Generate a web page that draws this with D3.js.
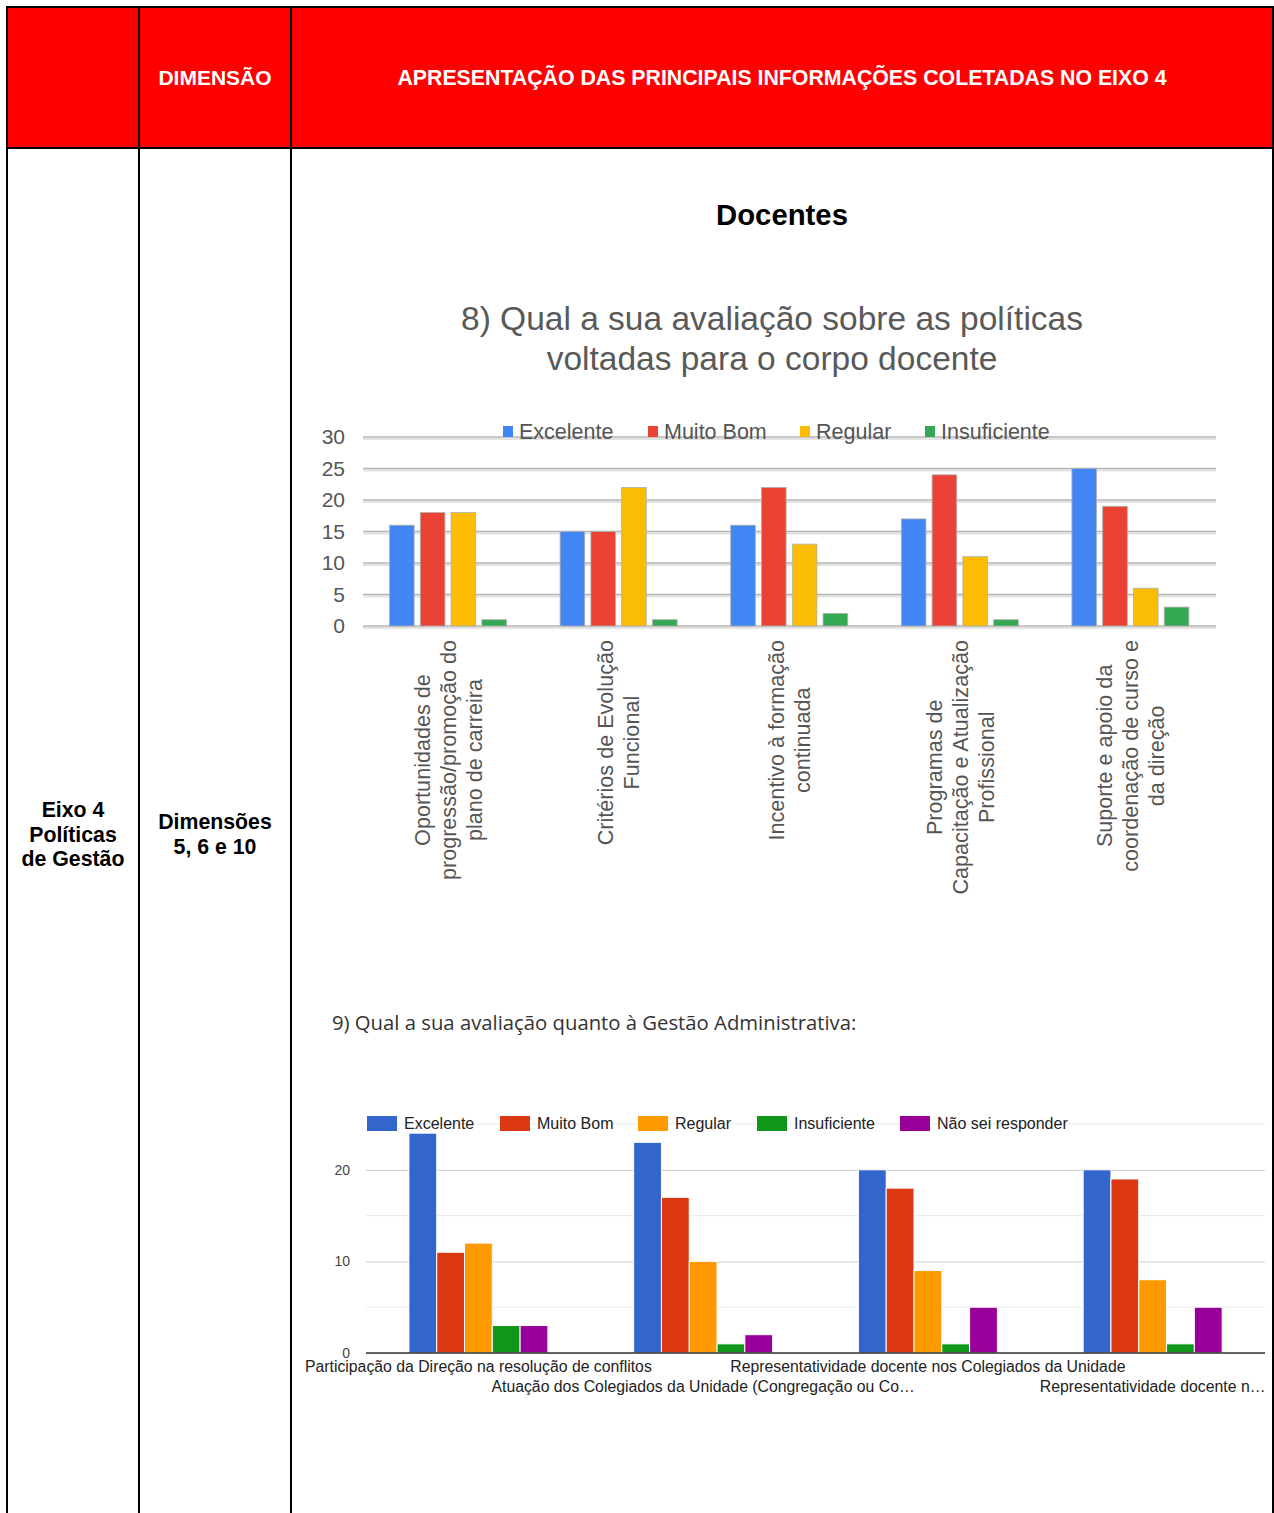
<!DOCTYPE html>
<html>
<head>
<meta charset="utf-8">
<script src="https://cdn.jsdelivr.net/npm/d3@7"></script>
<style>
  body { margin: 0; background: #fff; }
  svg { display: block; font-family: Arial, "Liberation Sans", sans-serif; }
</style>
</head>
<body>
<script>
// chart 8 - docentes, politicas
var cats1 = [
    ["Oportunidades de", "progressão/promoção do", "plano de carreira"],
    ["Critérios de Evolução", "Funcional"],
    ["Incentivo à formação", "continuada"],
    ["Programas de", "Capacitação e Atualização", "Profissional"],
    ["Suporte e apoio da", "coordenação de curso e", "da direção"]
];
var series1 = ["Excelente", "Muito Bom", "Regular", "Insuficiente"];
var excelente1 = [16, 15, 16, 17, 25];
var muitoBom1 = [18, 15, 22, 24, 19];
var regular1 = [18, 22, 13, 11, 6];
var insuficiente1 = [1, 1, 2, 1, 3];
var ticks1 = [0, 5, 10, 15, 20, 25, 30];

// chart 9 - gestao administrativa
var cats2 = [
    "Participação da Direção na resolução de conflitos",
    "Atuação dos Colegiados da Unidade (Congregação ou Co…",
    "Representatividade docente nos Colegiados da Unidade",
    "Representatividade docente n…"
];
var series2 = ["Excelente", "Muito Bom", "Regular", "Insuficiente", "Não sei responder"];
var excelente2 = [24, 23, 20, 20];
var muitoBom2 = [11, 17, 18, 19];
var regular2 = [12, 10, 9, 8];
var insuficiente2 = [3, 1, 1, 1];
var naoSei2 = [3, 2, 5, 5];
var ticks2 = [0, 10, 20];

var W = 1274, H = 1513;
var svg = d3.select("body").append("svg")
    .attr("width", W).attr("height", H);

// ---- table frame ----
var colX = [7, 139, 291, 1273];
svg.append("rect").attr("x", 7).attr("y", 7)
    .attr("width", 1266).attr("height", 141).attr("fill", "#ff0000");

var border = svg.append("g").attr("stroke", "#000").attr("stroke-width", 2);
border.append("line").attr("x1", 6).attr("x2", 1274).attr("y1", 7).attr("y2", 7);
border.append("line").attr("x1", 6).attr("x2", 1274).attr("y1", 148).attr("y2", 148);
colX.forEach(function(x) {
    border.append("line").attr("x1", x).attr("x2", x).attr("y1", 6).attr("y2", H);
});

svg.append("text").attr("x", 215).attr("y", 85)
    .attr("text-anchor", "middle").attr("fill", "#fff")
    .attr("font-weight", "bold").attr("font-size", 21)
    .text("DIMENSÃO");
svg.append("text").attr("x", 782).attr("y", 85)
    .attr("text-anchor", "middle").attr("fill", "#fff")
    .attr("font-weight", "bold").attr("font-size", 21.3)
    .text("APRESENTAÇÃO DAS PRINCIPAIS INFORMAÇÕES COLETADAS NO EIXO 4");

function multiline(lines, x, y0, dy, size) {
    var t = svg.append("text").attr("text-anchor", "middle")
        .attr("font-weight", "bold").attr("font-size", size).attr("fill", "#000");
    lines.forEach(function(l, i) {
        t.append("tspan").attr("x", x).attr("y", y0 + i * dy).text(l);
    });
}
multiline(["Eixo 4", "Políticas", "de Gestão"], 73, 817, 24.5, 21.3);
multiline(["Dimensões", "5, 6 e 10"], 215, 829, 25, 21.3);

svg.append("text").attr("x", 782).attr("y", 225)
    .attr("text-anchor", "middle").attr("font-weight", "bold")
    .attr("font-size", 29.3).attr("fill", "#000").text("Docentes");

// ---- chart 1 ----
var c1 = svg.append("g");
var colors1 = ["#4285F4", "#EA4335", "#FBBC04", "#34A853"];
var data1 = [excelente1, muitoBom1, regular1, insuficiente1];

c1.append("text").attr("text-anchor", "middle").attr("fill", "#595959")
    .attr("font-size", 33.5)
    .selectAll("tspan")
    .data(["8) Qual a sua avaliação sobre as políticas", "voltadas para o corpo docente"])
    .enter().append("tspan")
    .attr("x", 772).attr("y", function(d, i) { return 330 + i * 40; })
    .text(function(d) { return d; });

var x1 = d3.scaleBand().domain(d3.range(cats1.length)).range([363, 1216]);
var xi1 = d3.scaleBand().domain(d3.range(series1.length))
    .range([26.5, 143.5]).paddingInner(0.2);
var y1 = d3.scaleLinear().domain([0, 30]).range([626, 437]);

// gridlines with a soft shadow
ticks1.forEach(function(t) {
    c1.append("line").attr("x1", 363).attr("x2", 1216)
        .attr("y1", y1(t) + 2).attr("y2", y1(t) + 2)
        .attr("stroke", "#e3e3e3").attr("stroke-width", 2);
    c1.append("line").attr("x1", 363).attr("x2", 1216)
        .attr("y1", y1(t)).attr("y2", y1(t))
        .attr("stroke", "#b5b5b5").attr("stroke-width", 1.6);
});

var yAxis1 = c1.append("g").attr("transform", "translate(363,0)")
    .call(d3.axisLeft(y1).tickValues(ticks1).tickSize(0).tickPadding(18));
yAxis1.select(".domain").remove();
yAxis1.selectAll("text").attr("font-size", 21).attr("fill", "#555")
    .attr("font-family", "Arial, 'Liberation Sans', sans-serif");

data1.forEach(function(vals, s) {
    c1.selectAll(".b1s" + s).data(vals).enter().append("rect")
        .attr("x", function(d, i) { return x1(i) + xi1(s); })
        .attr("y", function(d) { return y1(d); })
        .attr("width", xi1.bandwidth())
        .attr("height", function(d) { return y1(0) - y1(d); })
        .attr("fill", colors1[s])
        .attr("stroke", "#b0b0b0").attr("stroke-width", 0.8);
});

// rotated category labels
cats1.forEach(function(lines, i) {
    var cx = x1(i) + x1.bandwidth() / 2;
    var g = c1.append("g");
    var t = g.append("text").attr("text-anchor", "middle")
        .attr("font-size", 21.6).attr("fill", "#555");
    var n = lines.length;
    lines.forEach(function(l, k) {
        t.append("tspan").attr("x", 0).attr("y", (k - (n - 1) / 2) * 26 + 7.5).text(l);
    });
    var maxW = 0;
    t.selectAll("tspan").each(function() {
        maxW = Math.max(maxW, this.getComputedTextLength());
    });
    g.attr("transform", "translate(" + cx + "," + (640 + maxW / 2) + ") rotate(-90)");
});

// legend 1
var leg1X = [503, 648, 800, 925];
series1.forEach(function(s, i) {
    c1.append("rect").attr("x", leg1X[i]).attr("y", 426)
        .attr("width", 10).attr("height", 11).attr("fill", colors1[i]);
    c1.append("text").attr("x", leg1X[i] + 16).attr("y", 439)
        .attr("font-size", 21.5).attr("fill", "#555").text(s);
});

// ---- chart 2 ----
var c2 = svg.append("g");
var colors2 = ["#3366CC", "#DC3912", "#FF9900", "#109618", "#990099"];
var data2 = [excelente2, muitoBom2, regular2, insuficiente2, naoSei2];

c2.append("text").attr("x", 332).attr("y", 1030)
    .attr("font-size", 20.3).attr("fill", "#333")
    .attr("font-family", "'Open Sans', Roboto, Arial, sans-serif")
    .text("9) Qual a sua avaliação quanto à Gestão Administrativa:");

var x2 = d3.scaleBand().domain(d3.range(cats2.length)).range([366, 1265]);
var xi2 = d3.scaleBand().domain(d3.range(series2.length))
    .range([42.9, 181.9]);
var y2 = d3.scaleLinear().domain([0, 25]).range([1353, 1124]);

[5, 15, 25].forEach(function(t) {
    c2.append("line").attr("x1", 366).attr("x2", 1265)
        .attr("y1", y2(t)).attr("y2", y2(t))
        .attr("stroke", "#ebebeb").attr("stroke-width", 1);
});
var yAxis2 = c2.append("g").attr("transform", "translate(366,0)")
    .call(d3.axisLeft(y2).tickValues(ticks2).tickSize(-899).tickPadding(16));
yAxis2.select(".domain").remove();
yAxis2.selectAll("line").attr("stroke", "#cccccc");
yAxis2.selectAll("text").attr("font-size", 14).attr("fill", "#444")
    .attr("font-family", "Arial, 'Liberation Sans', sans-serif");

// legend 2 (sits on the top gridline)
var leg2X = [367, 500, 638, 757, 900];
series2.forEach(function(s, i) {
    var tw = c2.append("text").attr("x", leg2X[i] + 37).attr("y", 1129)
        .attr("font-size", 16).attr("fill", "#222").text(s);
    var bw = tw.node().getComputedTextLength();
    c2.insert("rect", "text").attr("x", leg2X[i] + 34).attr("y", 1116)
        .attr("width", bw + 6).attr("height", 16).attr("fill", "#fff");
    c2.append("rect").attr("x", leg2X[i]).attr("y", 1116)
        .attr("width", 30).attr("height", 15).attr("fill", colors2[i]);
});

data2.forEach(function(vals, s) {
    c2.selectAll(".b2s" + s).data(vals).enter().append("rect")
        .attr("x", function(d, i) { return x2(i) + xi2(s); })
        .attr("y", function(d) { return y2(d); })
        .attr("width", xi2.bandwidth())
        .attr("height", function(d) { return y2(0) - y2(d); })
        .attr("fill", colors2[s])
        .attr("stroke", "#fff").attr("stroke-width", 1);
});

c2.append("line").attr("x1", 366).attr("x2", 1265)
    .attr("y1", y2(0)).attr("y2", y2(0))
    .attr("stroke", "#333").attr("stroke-width", 1.5);

cats2.forEach(function(c, i) {
    c2.append("text")
        .attr("x", x2(i) + x2.bandwidth() / 2)
        .attr("y", i % 2 == 0 ? 1372 : 1392)
        .attr("text-anchor", "middle")
        .attr("font-size", 15.8).attr("fill", "#222")
        .text(c);
});
</script>
</body>
</html>
